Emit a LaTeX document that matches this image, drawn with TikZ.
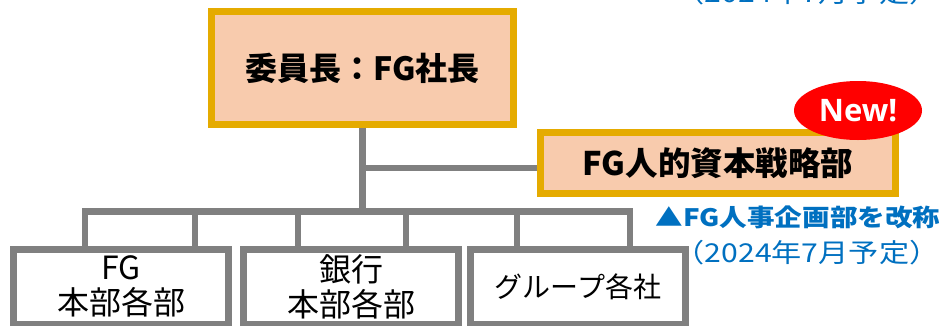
\documentclass[tikz,border=0pt]{standalone}
\usepackage{fontspec}
\usepackage{graphicx}
\usetikzlibrary{shapes.geometric}
\setmainfont{Noto Sans CJK JP}
\newfontfamily\osans{Open Sans}
\definecolor{orangeB}{HTML}{E5AB00}
\definecolor{peach}{HTML}{F8CBAD}
\definecolor{lineG}{HTML}{808080}
\definecolor{blueT}{HTML}{0070C0}
\definecolor{redN}{HTML}{FF0000}
\tikzset{
  orgbox/.style={draw=orangeB, fill=peach, line width=6.7pt, inner sep=0pt, font=\bfseries},
  wbox/.style={draw=lineG, fill=white, line width=6.7pt, inner sep=0pt,
    minimum width=215pt, minimum height=74.7pt, align=center,
    font=\fontsize{32}{35}\selectfont},
  conn/.style={draw=lineG, line width=6.7pt},
  bluetxt/.style={text=blueT, inner sep=0pt},
}
\begin{document}
\begin{tikzpicture}[x=1pt,y=-1pt]
\useasboundingbox (0,0) rectangle (943,325);
\clip (0,0) rectangle (943,325);
% boxes
\node[orgbox, minimum width=302pt, minimum height=113pt] (chair) at (362.5,68)
  {\fontsize{32}{36}\selectfont 委員長：FG社長};
\node[orgbox, minimum width=355.4pt, minimum height=61.4pt] (hr) at (718,163)
  {\fontsize{32.5}{38}\selectfont FG人的資本戦略部};
\node[ellipse, fill=redN, minimum width=128pt, minimum height=59pt, inner sep=0pt,
  text=white, font=\osans\bfseries\fontsize{31}{36}\selectfont] (new) at (858,110.5) {New!};
\node[wbox] (fg) at (121,286.65) {FG\\本部各部};
\node[wbox] (bk) at (351,286.65) {銀行\\本部各部};
\node[wbox, font=\fontsize{28}{32}\selectfont] (gr) at (578,286.65) {グループ各社};
% notes
\node[bluetxt, font=\bfseries\fontsize{24}{28}\selectfont] (note) at (798,217.5)
  {\scalebox{1.15}[1]{▲FG人事企画部を改称}};
\node[bluetxt, font=\fontsize{26}{30}\selectfont] (date) at (807,253)
  {\scalebox{1.16}[1]{（2024年7月予定）}};
\node[bluetxt, font=\fontsize{26}{30}\selectfont] (dtop) at (807,-7)
  {\scalebox{1.16}[1]{（2024年7月予定）}};
% connectors
\coordinate (bus) at (362.5,211.7);
\coordinate (br) at (362.5,168);
\coordinate (v1) at (85,211.7);
\coordinate (v2) at (195,211.7);
\coordinate (v3) at (298,211.7);
\coordinate (v4) at (406,211.7);
\coordinate (v5) at (517,211.7);
\coordinate (v6) at (630,211.7);
\draw[conn] (chair.south) -- (bus);
\draw[conn] (br) -- (br -| hr.west);
\draw[conn, line cap=rect] (v1) -- (v6);
\draw[conn] (v1) -- (v1 |- fg.north);
\draw[conn] (v2) -- (v2 |- fg.north);
\draw[conn] (v3) -- (v3 |- bk.north);
\draw[conn] (v4) -- (v4 |- bk.north);
\draw[conn] (v5) -- (v5 |- gr.north);
\draw[conn] (v6) -- (v6 |- gr.north);
\end{tikzpicture}
\end{document}
